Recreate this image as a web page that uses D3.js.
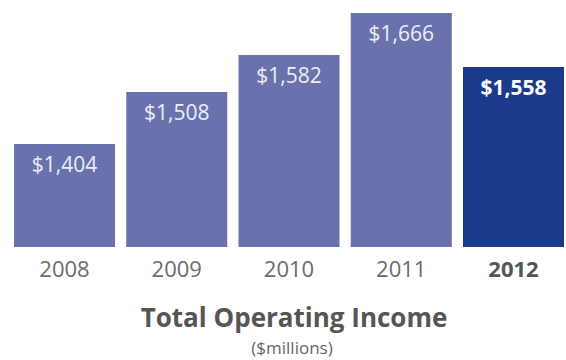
<!DOCTYPE html>
<html>
<head>
<meta charset="utf-8">
<script src="https://cdn.jsdelivr.net/npm/d3@7/dist/d3.min.js"></script>
<style>
  html, body { margin: 0; padding: 0; background: #fff; }
  svg { display: block; font-family: "Open Sans", "Noto Sans", sans-serif; }
</style>
</head>
<body>
<svg id="chart" width="566" height="360"></svg>
<script>
// Total operating income by year, $ millions
const years = ["2008", "2009", "2010", "2011", "2012"];
const income = [1404, 1508, 1582, 1666, 1558];
const highlightYear = "2012";

const svg = d3.select("#chart");
const baseline = 247;

const x = d3.scaleBand()
  .domain(years)
  .range([14, 564])
  .paddingInner(0.1)
  .paddingOuter(0);

const y = d3.scaleLinear()
  .domain([1198, 1692])
  .range([baseline, 0]);

const data = years.map((yr, i) => ({ year: yr, value: income[i] }));
const fmt = d3.format("$,");

const barColor = d => d.year === highlightYear ? "#1b3a8c" : "#6a72ae";

svg.append("g").selectAll("rect")
  .data(data)
  .join("rect")
  .attr("x", d => x(d.year))
  .attr("y", d => y(d.value))
  .attr("width", x.bandwidth())
  .attr("height", d => baseline - y(d.value))
  .attr("fill", barColor);

// value labels inside the top of each bar
svg.append("g").selectAll("text")
  .data(data)
  .join("text")
  .attr("x", d => x(d.year) + x.bandwidth() / 2)
  .attr("y", d => y(d.value) + 28)
  .attr("text-anchor", "middle")
  .attr("font-size", 21)
  .attr("font-weight", d => d.year === highlightYear ? 700 : 400)
  .attr("fill", d => d.year === highlightYear ? "#ffffff" : "#eceef6")
  .text(d => fmt(d.value));

// year axis
const xAxis = svg.append("g")
  .attr("transform", `translate(0,${baseline})`)
  .call(d3.axisBottom(x).tickSize(0).tickPadding(0));
xAxis.select(".domain").remove();
xAxis.selectAll("text")
  .attr("y", 30)
  .attr("dy", null)
  .attr("font-family", "\"Open Sans\", \"Noto Sans\", sans-serif")
  .attr("font-size", 22)
  .attr("font-weight", d => d === highlightYear ? 700 : 400)
  .attr("fill", d => d === highlightYear ? "#555555" : "#6b6b6b");

svg.append("text")
  .attr("x", 294)
  .attr("y", 327)
  .attr("text-anchor", "middle")
  .attr("font-size", 26)
  .attr("font-weight", 700)
  .attr("fill", "#555555")
  .text("Total Operating Income");

svg.append("text")
  .attr("x", 292)
  .attr("y", 354)
  .attr("text-anchor", "middle")
  .attr("font-size", 17)
  .attr("fill", "#666666")
  .text("($millions)");
</script>
</body>
</html>
